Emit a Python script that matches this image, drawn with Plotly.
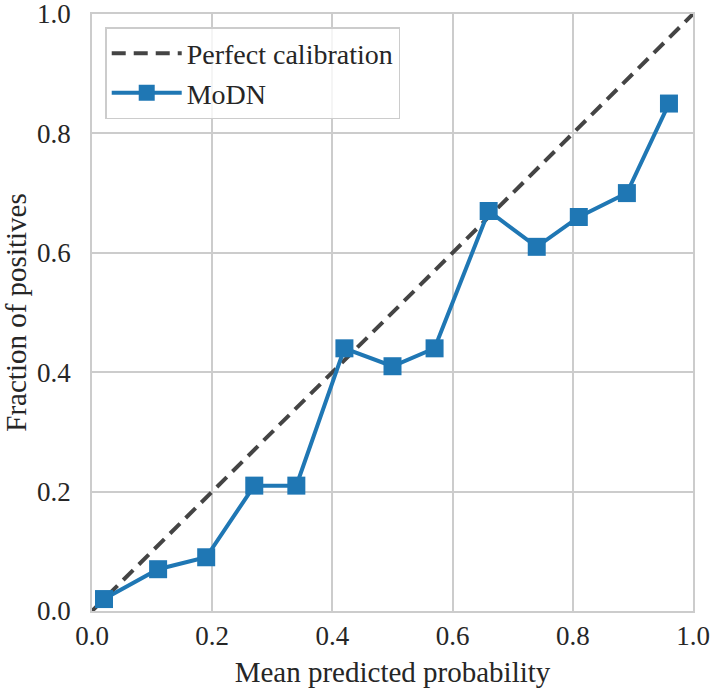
import plotly.graph_objects as go

mean_pred = [0.02, 0.11, 0.19, 0.27, 0.34, 0.42, 0.50, 0.57, 0.66, 0.74, 0.81, 0.89, 0.96]
frac_pos = [0.02, 0.07, 0.09, 0.21, 0.21, 0.44, 0.41, 0.44, 0.67, 0.61, 0.66, 0.70, 0.85]
diag = [0.0, 1.0]
tick_vals = [0.0, 0.2, 0.4, 0.6, 0.8, 1.0]
tick_text = ["0.0", "0.2", "0.4", "0.6", "0.8", "1.0"]

FONT = "Liberation Serif"
TXT = "#262626"
fig = go.Figure()
fig.add_trace(go.Scatter(
    x=diag, y=diag, mode="lines", name="Perfect calibration",
    line=dict(color="#444444", width=4, dash="14px,8px"),
))
fig.add_trace(go.Scatter(
    x=mean_pred, y=frac_pos, mode="lines+markers", name="MoDN",
    line=dict(color="#1f77b4", width=4),
    marker=dict(symbol="square", size=18, color="#1f77b4"),
))

axis_common = dict(
    range=[0, 1], tickvals=tick_vals, ticktext=tick_text,
    showgrid=True, gridcolor="#cccccc", gridwidth=1.5,
    showline=True, linecolor="#cccccc", linewidth=1.5, mirror=True,
    zeroline=False, ticks="", automargin=False, ticklabeloverflow="allow",
    tickfont=dict(family=FONT, size=27, color=TXT),
)
fig.update_xaxes(**axis_common, ticklabelstandoff=0,
                 title=dict(text="Mean predicted probability", standoff=12,
                            font=dict(family=FONT, size=29, color=TXT)))
fig.update_yaxes(**axis_common, ticklabelstandoff=14,
                 title=dict(text="Fraction of positives", standoff=10,
                            font=dict(family=FONT, size=29, color=TXT)))

fig.update_layout(
    width=714, height=693,
    margin=dict(l=92, r=21, t=14, b=82),
    plot_bgcolor="white", paper_bgcolor="white",
    font=dict(family=FONT, size=28, color=TXT),
    hovermode=False,
    legend=dict(
        x=0.022, y=0.978, xanchor="left", yanchor="top",
        bgcolor="rgba(255,255,255,0.8)", bordercolor="#cccccc", borderwidth=1.5,
        font=dict(family=FONT, size=28, color=TXT),
        itemwidth=70, tracegroupgap=0,
    ),
    showlegend=True,
)

fig.write_html("out.html", config={"displayModeBar": False},
               post_script="document.body.style.margin='0';document.body.style.padding='0';")
